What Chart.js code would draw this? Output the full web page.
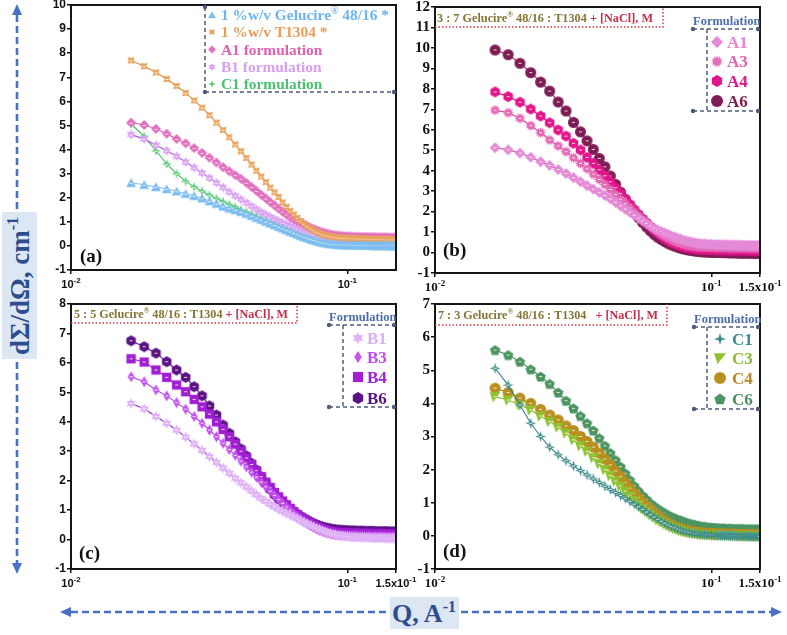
<!DOCTYPE html>
<html>
<head>
<meta charset="utf-8">
<title>SANS scattering profiles</title>
<script src="https://cdn.jsdelivr.net/npm/chart.js@4.4.1/dist/chart.umd.min.js"></script>
<style>
  html, body { margin: 0; padding: 0; background: #fff; }
  body { position: relative; width: 787px; height: 635px; overflow: hidden; }
  canvas { position: absolute; }
  svg { position: absolute; left: 0; top: 0; }
</style>
</head>
<body>
<canvas id="pa" width="425" height="300" style="left:0;top:-5px"></canvas>
<canvas id="pb" width="392" height="301" style="left:395px;top:-3px"></canvas>
<canvas id="pc" width="425" height="300" style="left:0;top:294px"></canvas>
<canvas id="pd" width="392" height="300" style="left:395px;top:294px"></canvas>
<svg width="787" height="635">
  <g stroke="#4a70c4" stroke-width="2.6" stroke-dasharray="7 4" fill="none">
    <line x1="17" y1="15" x2="17" y2="210"/>
    <line x1="17" y1="362" x2="17" y2="564"/>
    <line x1="71" y1="612" x2="388" y2="612"/>
    <line x1="461" y1="612" x2="771" y2="612"/>
  </g>
  <g fill="#4a70c4">
    <polygon points="17,4 12,15 22,15"/>
    <polygon points="17,574 12,563 22,563"/>
    <polygon points="60,612 71,607 71,617"/>
    <polygon points="782,612 771,607 771,617"/>
  </g>
  <rect x="2" y="212" width="35" height="147" fill="#dde7f3"/>
  <text transform="translate(29,286) rotate(-90)" text-anchor="middle" font-family="'Liberation Serif', serif" font-weight="bold" font-size="27" fill="#2c4d8e">dΣ/dΩ, cm<tspan font-size="16" dy="-11">-1</tspan></text>
  <rect x="390" y="597" width="69" height="32" fill="#dde7f3"/>
  <text x="424" y="622" text-anchor="middle" font-family="'Liberation Serif', serif" font-weight="bold" font-size="26" fill="#2c4d8e">Q, A<tspan font-size="16" dy="-10">-1</tspan></text>
</svg>
<script>
// scattering vector Q (A^-1), shared by every curve
const Q = [0.0165,0.0184,0.0203,0.0222,0.0241,0.0260,0.0279,0.0298,0.0317,0.0336,
  0.0355,0.0374,0.0393,0.0412,0.0431,0.0450,0.0469,0.0488,0.0507,0.0526,
  0.0545,0.0564,0.0583,0.0602,0.0621,0.0640,0.0659,0.0678,0.0697,0.0716,
  0.0735,0.0754,0.0773,0.0792,0.0811,0.0830,0.0849,0.0868,0.0887,0.0906,
  0.0925,0.0944,0.0963,0.0982,0.1001,0.1020,0.1039,0.1058,0.1077,0.1096,
  0.1115,0.1134,0.1153,0.1172,0.1191,0.1210,0.1229,0.1248,0.1267,0.1286,
  0.1305,0.1324,0.1343,0.1362,0.1381,0.1400,0.1419,0.1438,0.1457,0.1476,
  0.1495];

// dΣ/dΩ (cm^-1)
const gelucire = [2.62,2.54,2.45,2.36,2.27,2.17,2.08,1.98,1.86,1.75,
  1.64,1.56,1.49,1.42,1.34,1.25,1.17,1.09,1.01,0.94,
  0.87,0.80,0.73,0.66,0.60,0.54,0.48,0.42,0.38,0.34,
  0.29,0.25,0.21,0.18,0.15,0.13,0.11,0.09,0.08,0.07,
  0.06,0.06,0.05,0.05,0.05,0.05,0.05,0.04,0.04,0.04,
  0.04,0.04,0.04,0.04,0.04,0.03,0.03,0.03,0.03,0.03,
  0.03,0.03,0.03,0.03,0.03,0.03,0.03,0.03,0.02,0.02,
  0.02];
const t1304 = [7.70,7.46,7.20,6.93,6.64,6.35,6.04,5.74,5.43,5.12,
  4.81,4.51,4.21,3.93,3.65,3.38,3.12,2.88,2.65,2.42,
  2.22,2.03,1.80,1.62,1.45,1.30,1.16,1.03,0.92,0.82,
  0.73,0.65,0.59,0.54,0.49,0.45,0.42,0.40,0.38,0.36,
  0.35,0.34,0.33,0.33,0.32,0.32,0.31,0.31,0.31,0.30,
  0.30,0.30,0.30,0.29,0.29,0.29,0.29,0.29,0.28,0.28,
  0.28,0.28,0.28,0.28,0.27,0.27,0.27,0.27,0.27,0.27,
  0.27];
const a1 = [5.12,5.02,4.86,4.66,4.44,4.26,4.06,3.86,3.66,3.46,
  3.27,3.10,2.94,2.79,2.62,2.45,2.28,2.12,1.97,1.82,
  1.68,1.54,1.42,1.30,1.19,1.10,1.03,0.96,0.89,0.82,
  0.76,0.71,0.66,0.61,0.57,0.54,0.51,0.48,0.46,0.44,
  0.43,0.42,0.41,0.40,0.40,0.39,0.39,0.38,0.38,0.38,
  0.37,0.37,0.37,0.37,0.36,0.36,0.36,0.36,0.36,0.35,
  0.35,0.35,0.35,0.35,0.35,0.35,0.34,0.34,0.34,0.34,
  0.34];
const b1 = [4.62,4.44,4.18,3.95,3.72,3.48,3.25,3.03,2.82,2.62,
  2.43,2.25,2.08,1.93,1.79,1.65,1.52,1.40,1.30,1.20,
  1.11,1.03,0.96,0.89,0.83,0.77,0.71,0.65,0.59,0.54,
  0.49,0.44,0.39,0.35,0.31,0.27,0.24,0.21,0.19,0.17,
  0.15,0.14,0.13,0.12,0.11,0.10,0.10,0.09,0.09,0.08,
  0.08,0.08,0.07,0.07,0.07,0.07,0.06,0.06,0.06,0.06,
  0.06,0.06,0.06,0.05,0.05,0.05,0.05,0.05,0.05,0.05,
  0.05];
const c1 = [5.06,4.55,3.95,3.40,3.00,2.68,2.45,2.27,2.11,1.97,
  1.84,1.72,1.61,1.50,1.40,1.31,1.22,1.13,1.04,0.96,
  0.88,0.80,0.72,0.64,0.57,0.50,0.44,0.38,0.33,0.28,
  0.24,0.20,0.17,0.14,0.12,0.10,0.08,0.07,0.06,0.05,
  0.04,0.04,0.03,0.03,0.02,0.02,0.02,0.01,0.01,0.01,
  0.01,0.00,0.00,0.00,0.00,0.00,-0.01,-0.01,-0.01,-0.01,
  -0.01,-0.01,-0.01,-0.01,-0.02,-0.02,-0.02,-0.02,-0.02,-0.02,
  -0.02];
const a3 = [6.96,6.83,6.56,6.20,5.86,5.50,5.21,4.93,4.63,4.36,
  4.09,3.83,3.57,3.32,3.08,2.84,2.61,2.39,2.18,1.98,
  1.79,1.61,1.44,1.28,1.14,1.01,0.89,0.79,0.70,0.62,
  0.55,0.49,0.44,0.40,0.36,0.33,0.31,0.29,0.28,0.27,
  0.26,0.26,0.25,0.25,0.25,0.25,0.24,0.24,0.24,0.24,
  0.24,0.24,0.24,0.23,0.23,0.23,0.23,0.23,0.23,0.23,
  0.23,0.23,0.22,0.22,0.22,0.22,0.22,0.22,0.22,0.22,
  0.22];
const a4 = [7.85,7.62,7.35,7.01,6.67,6.34,5.99,5.69,5.34,5.01,
  4.65,4.36,4.05,3.75,3.46,3.17,2.89,2.62,2.36,2.11,
  1.88,1.66,1.46,1.27,1.10,0.95,0.82,0.70,0.60,0.51,
  0.44,0.38,0.33,0.29,0.26,0.23,0.21,0.19,0.18,0.17,
  0.16,0.15,0.15,0.14,0.14,0.14,0.14,0.13,0.13,0.13,
  0.13,0.13,0.13,0.12,0.12,0.12,0.12,0.12,0.12,0.12,
  0.12,0.12,0.11,0.11,0.11,0.11,0.11,0.11,0.11,0.11,
  0.11];
const a6 = [9.90,9.67,9.25,8.79,8.33,7.89,7.36,6.92,6.36,5.90,
  5.46,5.04,4.60,4.19,3.74,3.33,2.95,2.60,2.28,1.98,
  1.71,1.47,1.25,1.06,0.89,0.75,0.64,0.54,0.45,0.38,
  0.32,0.27,0.22,0.18,0.15,0.12,0.10,0.08,0.06,0.05,
  0.04,0.03,0.03,0.02,0.02,0.01,0.01,0.01,0.00,0.00,
  0.00,0.00,-0.01,-0.01,-0.01,-0.01,-0.01,-0.02,-0.02,-0.02,
  -0.02,-0.02,-0.02,-0.02,-0.02,-0.03,-0.03,-0.03,-0.03,-0.03,
  -0.03];
const b3 = [5.53,5.36,5.08,4.88,4.65,4.43,4.18,3.95,3.72,3.49,
  3.27,3.06,2.86,2.66,2.47,2.29,2.12,1.95,1.79,1.64,
  1.50,1.36,1.23,1.11,1.00,0.89,0.79,0.70,0.62,0.54,
  0.47,0.41,0.36,0.31,0.27,0.24,0.21,0.19,0.17,0.16,
  0.15,0.14,0.14,0.13,0.13,0.13,0.12,0.12,0.12,0.12,
  0.11,0.11,0.11,0.11,0.11,0.10,0.10,0.10,0.10,0.10,
  0.10,0.10,0.10,0.10,0.09,0.09,0.09,0.09,0.09,0.09,
  0.09];
const b4 = [6.14,6.03,5.76,5.51,5.25,5.02,4.76,4.51,4.26,4.00,
  3.74,3.49,3.24,3.00,2.77,2.55,2.34,2.14,1.95,1.77,
  1.60,1.45,1.31,1.18,1.06,0.95,0.85,0.76,0.68,0.61,
  0.55,0.49,0.44,0.40,0.36,0.33,0.30,0.28,0.26,0.25,
  0.24,0.23,0.23,0.22,0.22,0.22,0.21,0.21,0.21,0.21,
  0.20,0.20,0.20,0.20,0.20,0.20,0.19,0.19,0.19,0.19,
  0.19,0.19,0.19,0.19,0.19,0.18,0.18,0.18,0.18,0.18,
  0.18];
const b6 = [6.75,6.55,6.33,6.04,5.76,5.51,5.19,4.88,4.54,4.23,
  3.89,3.61,3.32,3.08,2.84,2.59,2.36,2.13,1.91,1.70,
  1.52,1.37,1.24,1.13,1.03,0.94,0.86,0.79,0.72,0.66,
  0.60,0.55,0.51,0.47,0.44,0.41,0.39,0.37,0.35,0.34,
  0.33,0.32,0.32,0.31,0.31,0.30,0.30,0.30,0.29,0.29,
  0.29,0.29,0.28,0.28,0.28,0.28,0.28,0.28,0.27,0.27,
  0.27,0.27,0.27,0.27,0.27,0.27,0.26,0.26,0.26,0.26,
  0.26];
const c3 = [4.20,4.10,3.95,3.80,3.62,3.45,3.28,3.10,2.90,2.72,
  2.55,2.36,2.18,2.00,1.82,1.65,1.50,1.35,1.20,1.06,
  0.94,0.83,0.73,0.64,0.56,0.48,0.42,0.36,0.31,0.26,
  0.22,0.19,0.16,0.13,0.11,0.09,0.08,0.07,0.06,0.05,
  0.04,0.04,0.03,0.03,0.03,0.02,0.02,0.02,0.02,0.01,
  0.01,0.01,0.01,0.01,0.00,0.00,0.00,0.00,0.00,0.00,
  0.00,-0.01,-0.01,-0.01,-0.01,-0.01,-0.01,-0.01,-0.01,-0.01,
  -0.01];
const c4 = [4.46,4.33,4.16,4.00,3.82,3.65,3.50,3.32,3.18,3.00,
  2.85,2.68,2.50,2.32,2.14,1.96,1.79,1.61,1.44,1.29,
  1.15,1.02,0.90,0.79,0.69,0.60,0.52,0.45,0.39,0.34,
  0.29,0.25,0.22,0.19,0.17,0.15,0.13,0.12,0.11,0.10,
  0.09,0.08,0.08,0.07,0.07,0.07,0.06,0.06,0.06,0.06,
  0.05,0.05,0.05,0.05,0.05,0.05,0.04,0.04,0.04,0.04,
  0.04,0.04,0.04,0.04,0.04,0.04,0.03,0.03,0.03,0.03,
  0.03];
const c6 = [5.61,5.46,5.26,5.03,4.81,4.59,4.33,4.08,3.85,3.62,
  3.40,3.18,2.95,2.72,2.50,2.29,2.09,1.89,1.69,1.51,
  1.36,1.22,1.10,0.99,0.90,0.82,0.75,0.69,0.63,0.58,
  0.54,0.50,0.47,0.44,0.41,0.38,0.36,0.34,0.32,0.30,
  0.29,0.28,0.27,0.26,0.25,0.25,0.24,0.24,0.23,0.23,
  0.23,0.22,0.22,0.22,0.22,0.21,0.21,0.21,0.21,0.21,
  0.21,0.20,0.20,0.20,0.20,0.20,0.20,0.20,0.20,0.20,
  0.20];

// axis ticks and their labels (base, exponent)
const xTicksA = [0.01, 0.1];
const xTicksB = [0.01, 0.1, 0.15];
const tickText = { 0.01: ['10', '-2'], 0.1: ['10', '-1'], 0.15: ['1.5x10', '-1'] };

const titleB = ['3 : 7 Gelucire® 48/16 : T1304 ', '+ [NaCl], M'];
const titleC = ['5 : 5 Gelucire® 48/16 : T1304 ', '+ [NaCl], M'];
const titleD = ['7 : 3 Gelucire® 48/16 : T1304   ', '+ [NaCl], M'];

const SERIF = '"Liberation Serif", "DejaVu Serif", serif';
const SANS = '"Liberation Sans", Arial, sans-serif';

// --- marker glyphs ---
function tracePath(g, shape, x, y, r) {
  const up = -Math.PI / 2;
  const pts = (n, ro, ri, rot, cy) => {
    const cnt = ri ? 2 * n : n;
    for (let k = 0; k < cnt; k++) {
      const rr = ri && k % 2 ? ri : ro;
      const a = rot + k * Math.PI * 2 / cnt;
      g.lineTo(x + rr * Math.cos(a), (cy || y) + rr * Math.sin(a));
    }
  };
  g.beginPath();
  switch (shape) {
    case 'circle': g.arc(x, y, r, 0, Math.PI * 2); break;
    case 'square': g.rect(x - r * 0.85, y - r * 0.85, r * 1.7, r * 1.7); break;
    case 'tri': pts(3, r * 1.15, 0, up, y + r * 0.25); break;
    case 'diamond': pts(4, r, 0, up); break;
    case 'tdiamond':
      g.moveTo(x, y - r); g.lineTo(x + r * 0.62, y); g.lineTo(x, y + r); g.lineTo(x - r * 0.62, y); break;
    case 'hex': pts(6, r, 0, up); break;
    case 'pent': pts(5, r, 0, up, y + r * 0.08); break;
    case 'star4': pts(4, r, r * 0.33, up); break;
    case 'star4x': pts(4, r, r * 0.5, Math.PI / 4); break;
    case 'star6': pts(6, r, r * 0.55, up); break;
    case 'burst': pts(12, r, r * 0.62, up); break;
    case 'wedge':
      g.moveTo(x - r, y - r * 0.8); g.lineTo(x + r, y - r * 0.8); g.lineTo(x - r * 0.4, y + r); break;
  }
  g.closePath();
}

function marker(shape, color, size, bar) {
  const c = document.createElement('canvas');
  c.width = c.height = size + 2;
  const g = c.getContext('2d');
  const m = (size + 2) / 2;
  g.fillStyle = color;
  tracePath(g, shape, m, m, size / 2);
  g.fill();
  if (bar) {
    // tiny error-bar tick that shows through every marker
    g.strokeStyle = 'rgba(255,250,220,0.85)';
    g.lineWidth = 1;
    g.beginPath();
    g.moveTo(m - 1.5, Math.floor(m) + 0.5);
    g.lineTo(m + 1.5, Math.floor(m) + 0.5);
    g.stroke();
  }
  return c;
}

// --- text helpers ---
function supText(ctx, base, exp, cx, by, family, size) {
  const es = Math.round(size * 0.72);
  ctx.font = `bold ${size}px ${family}`;
  const w1 = ctx.measureText(base).width;
  ctx.font = `bold ${es}px ${family}`;
  const w2 = ctx.measureText(exp).width;
  const x = cx - (w1 + w2) / 2;
  ctx.font = `bold ${size}px ${family}`;
  ctx.fillText(base, x, by);
  ctx.font = `bold ${es}px ${family}`;
  ctx.fillText(exp, x + w1, by - size * 0.42);
}

function drawRich(ctx, parts, x, y, size, targetW) {
  const segs = [];
  parts.forEach(([t, c]) => t.split('®').forEach((s, i) => {
    if (i > 0) segs.push({ t: '®', c, sup: true });
    if (s) segs.push({ t: s, c, sup: false });
  }));
  let total = 0;
  segs.forEach(s => {
    ctx.font = `bold ${s.sup ? Math.round(size * 0.62) : size}px ${SERIF}`;
    s.w = ctx.measureText(s.t).width;
    total += s.w;
  });
  const k = targetW ? targetW / total : 1;
  ctx.save();
  ctx.translate(x, y);
  ctx.scale(k, 1);
  let cx = 0;
  segs.forEach(s => {
    ctx.font = `bold ${s.sup ? Math.round(size * 0.62) : size}px ${SERIF}`;
    ctx.fillStyle = s.c;
    ctx.fillText(s.t, cx, s.sup ? -size * 0.38 : 0);
    cx += s.w;
  });
  ctx.restore();
}

// --- panel decorations (frame, x labels, titles, legends) ---
const DECO = {};
const deco = {
  id: 'deco',
  afterDraw(chart) {
    const o = DECO[chart.canvas.id];
    if (!o) return;
    const { ctx, chartArea: a } = chart;
    const sx = chart.scales.x;
    const [ox, oy] = o.off;
    ctx.save();
    ctx.textAlign = 'left';
    ctx.textBaseline = 'alphabetic';
    ctx.strokeStyle = '#161616';
    ctx.lineWidth = 2;
    ctx.strokeRect(a.left, a.top, a.right - a.left, a.bottom - a.top);

    ctx.fillStyle = '#111';
    o.xTicks.forEach(v => {
      const [b, e] = tickText[v];
      supText(ctx, b, e, sx.getPixelForValue(v), a.bottom + 18, o.tickFamily, o.tickSize);
    });

    ctx.font = `bold 19px ${SERIF}`;
    ctx.fillStyle = '#111';
    ctx.fillText(o.letter[0], o.letter[1] - ox, o.letter[2] - oy);

    if (o.title) {
      const t = o.title;
      drawRich(ctx, [[t.text[0], '#857535'], [t.text[1], '#c0304a']], t.x - ox, t.y - oy, 12.5, t.w);
      ctx.strokeStyle = '#d03838';
      ctx.lineWidth = 1.5;
      ctx.setLineDash([1.5, 2]);
      ctx.beginPath();
      ctx.moveTo(a.left, t.ly - oy);
      ctx.lineTo(t.lx - ox, t.ly - oy);
      ctx.lineTo(t.lx - ox, a.top);
      ctx.stroke();
      ctx.setLineDash([]);
    }

    const L = o.legend;
    ctx.strokeStyle = '#4d5b78';
    ctx.fillStyle = '#4d5b78';
    ctx.lineWidth = 1.5;
    ctx.setLineDash([4, 3]);
    L.lines.forEach(([x1, y1, x2, y2]) => {
      ctx.beginPath();
      ctx.moveTo(x1 - ox, y1 - oy);
      ctx.lineTo(x2 - ox, y2 - oy);
      ctx.stroke();
    });
    ctx.setLineDash([]);
    L.dots.forEach(([x, y]) => {
      ctx.beginPath();
      ctx.arc(x - ox, y - oy, 2.2, 0, Math.PI * 2);
      ctx.fill();
    });
    if (L.head) {
      ctx.font = `bold 12.5px ${SERIF}`;
      ctx.fillStyle = '#4b6ea8';
      ctx.fillText('Formulation', L.head[0] - ox, L.head[1] + 4 - oy);
    }
    o.series.forEach((s, i) => {
      const y = L.rows[i];
      const img = marker(s.shape, s.color, L.ms, false);
      ctx.drawImage(img, L.mx - img.width / 2 - ox, y - img.height / 2 - oy);
      drawRich(ctx, [[s.label, s.text]], L.tx - ox, y + L.size * 0.34 - oy, L.size, 0);
    });
    ctx.restore();
  }
};

function makeChart(id, series, opt) {
  DECO[id] = Object.assign({ series }, opt.deco);
  return new Chart(document.getElementById(id), {
    type: 'line',
    data: {
      labels: Q,
      datasets: series.map(s => ({
        label: s.label,
        data: s.data,
        borderColor: s.line,
        borderWidth: 1.1,
        backgroundColor: s.color,
        pointStyle: marker(s.shape, s.color, opt.ms, true),
        pointRadius: opt.ms / 2,
        pointHoverRadius: opt.ms / 2,
        tension: 0,
        fill: false
      }))
    },
    options: {
      responsive: false,
      animation: false,
      events: [],
      layout: { padding: { left: 0, top: 10, right: opt.padR, bottom: 0 } },
      plugins: { legend: { display: false }, tooltip: { enabled: false } },
      scales: {
        x: {
          type: 'logarithmic',
          min: 0.01,
          max: 0.15,
          afterBuildTicks: sc => { sc.ticks = opt.deco.xTicks.map(v => ({ value: v })); },
          afterFit: sc => { sc.height = 25; },
          ticks: { display: false },
          grid: { drawOnChartArea: false, drawTicks: true, tickLength: 4, color: '#111', lineWidth: 1.5 },
          border: { display: false }
        },
        y: {
          min: -1,
          max: opt.ymax,
          afterFit: sc => { sc.width = opt.yw; },
          ticks: { stepSize: 1, autoSkip: false, color: '#111', padding: 1, font: { family: opt.yFamily, size: opt.ySize, weight: 'bold' } },
          grid: { drawOnChartArea: false, drawTicks: true, tickLength: 4, color: '#111', lineWidth: 1.5 },
          border: { display: false }
        }
      }
    },
    plugins: [deco]
  });
}

// (a) single components and first formulations
makeChart('pa', [
  { label: '1 %w/v Gelucire® 48/16 *', data: gelucire, shape: 'tri', color: '#7cbdf2', line: '#86c3ef', text: '#6fb4ee' },
  { label: '1 %w/v T1304 *', data: t1304, shape: 'star4x', color: '#e9a35e', line: '#df8f3e', text: '#e89e5a' },
  { label: 'A1 formulation', data: a1, shape: 'diamond', color: '#e270c2', line: '#dd5cb2', text: '#e060b4' },
  { label: 'B1 formulation', data: b1, shape: 'star6', color: '#dba4f4', line: '#a448e8', text: '#d6a0f2' },
  { label: 'C1 formulation', data: c1, shape: 'star4', color: '#5ccb7c', line: '#3fb865', text: '#4cc072' }
], {
  ms: 10, padR: 29, yw: 71, ymax: 10, yFamily: SANS, ySize: 12,
  deco: {
    off: [0, -5], xTicks: xTicksA, tickFamily: SANS, tickSize: 11,
    letter: ['(a)', 80, 262],
    legend: {
      lines: [[205, 7, 205, 92], [205, 92, 394, 92]],
      dots: [[205, 7], [205, 92], [394, 92]],
      rows: [15, 32, 49.5, 67, 84], mx: 212, tx: 221, size: 15.4, ms: 8
    }
  }
});

// (b) 3:7 series
makeChart('pb', [
  { label: 'A1', data: a1, shape: 'diamond', color: '#e58ad8', line: '#c8489e', text: '#e684d6' },
  { label: 'A3', data: a3, shape: 'burst', color: '#e46ab8', line: '#d43c98', text: '#e062b2' },
  { label: 'A4', data: a4, shape: 'hex', color: '#e2168c', line: '#d40f80', text: '#e0168c' },
  { label: 'A6', data: a6, shape: 'circle', color: '#7e1d55', line: '#c01a70', text: '#7a2050' }
], {
  ms: 11, padR: 27, yw: 40, ymax: 12, yFamily: SERIF, ySize: 15,
  deco: {
    off: [395, -3], xTicks: xTicksB, tickFamily: SERIF, tickSize: 13,
    letter: ['(b)', 443, 256],
    title: { text: titleB, x: 437, y: 22, w: 216, ly: 27, lx: 663 },
    legend: {
      head: [693, 21],
      lines: [[693, 29, 758, 29], [707, 29, 707, 111], [693, 111, 758, 111]],
      dots: [[693, 29], [758, 29], [693, 111], [758, 111]],
      rows: [42, 61.5, 81, 101], mx: 717, tx: 727, size: 17, ms: 12
    }
  }
});

// (c) 5:5 series
makeChart('pc', [
  { label: 'B1', data: b1, shape: 'star6', color: '#e0b2f8', line: '#7c2cba', text: '#ddb0f6' },
  { label: 'B3', data: b3, shape: 'tdiamond', color: '#c452f2', line: '#b03ee2', text: '#c04cf0' },
  { label: 'B4', data: b4, shape: 'square', color: '#a11fd3', line: '#9020c8', text: '#9e22cc' },
  { label: 'B6', data: b6, shape: 'hex', color: '#5c1384', line: '#6a1a98', text: '#5a1282' }
], {
  ms: 11, padR: 29, yw: 71, ymax: 8, yFamily: SANS, ySize: 12,
  deco: {
    off: [0, 294], xTicks: xTicksB, tickFamily: SANS, tickSize: 11,
    letter: ['(c)', 79, 559],
    title: { text: titleC, x: 74, y: 318, w: 214, ly: 323, lx: 297 },
    legend: {
      head: [329, 317],
      lines: [[329, 325, 394, 325], [343, 325, 343, 407], [329, 407, 394, 407]],
      dots: [[329, 325], [394, 325], [329, 407], [394, 407]],
      rows: [338, 357, 377, 398], mx: 358, tx: 367, size: 17, ms: 12
    }
  }
});

// (d) 7:3 series
makeChart('pd', [
  { label: 'C1', data: c1, shape: 'star4', color: '#3e8c8e', line: '#357f82', text: '#3f8b8d' },
  { label: 'C3', data: c3, shape: 'wedge', color: '#8dc232', line: '#86b82e', text: '#89bd30' },
  { label: 'C4', data: c4, shape: 'circle', color: '#b98f20', line: '#a8801a', text: '#b28a22' },
  { label: 'C6', data: c6, shape: 'pent', color: '#4c9563', line: '#458a5a', text: '#4b8d5e' }
], {
  ms: 11, padR: 27, yw: 40, ymax: 7, yFamily: SERIF, ySize: 15,
  deco: {
    off: [395, 294], xTicks: xTicksB, tickFamily: SERIF, tickSize: 13,
    letter: ['(d)', 443, 557],
    title: { text: titleD, x: 438, y: 319, w: 220, ly: 325, lx: 667 },
    legend: {
      head: [694, 319],
      lines: [[694, 327, 758, 327], [707, 327, 707, 409], [694, 409, 758, 409]],
      dots: [[694, 327], [758, 327], [694, 409], [758, 409]],
      rows: [339, 358, 378, 399], mx: 720, tx: 732, size: 17, ms: 12
    }
  }
});
</script>
</body>
</html>
